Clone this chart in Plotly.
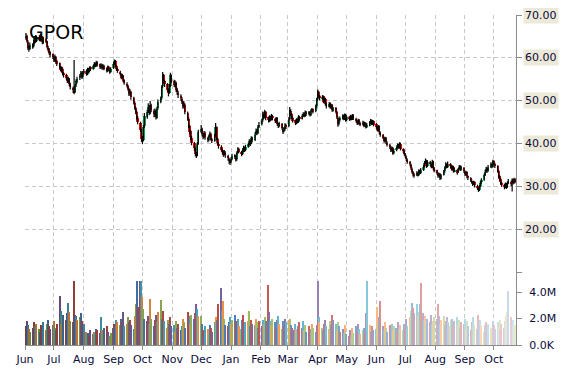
import pandas as pd
import plotly.graph_objects as go

# ---------------- data ----------------
title_text = "GPOR"
dates = pd.bdate_range("2014-06-02", "2015-10-23")

opens = [
    64.6, 65.0, 63.8, 62.5, 62.1, 63.2, 62.7, 63.6, 64.8, 64.0,
    64.9, 64.1, 65.1, 64.5, 63.5, 64.3, 63.9, 62.4, 62.0, 61.3,
    60.8, 60.0, 59.3, 60.1, 59.2, 58.7, 57.8, 57.0, 57.5, 56.3,
    56.1, 55.2, 54.4, 55.0, 53.9, 53.0, 52.3, 52.1, 53.6, 54.4,
    55.2, 55.9, 56.5, 55.5, 56.4, 57.0, 56.3, 57.4, 56.9, 57.7,
    57.5, 58.1, 58.7, 58.1, 59.0, 58.5, 57.7, 58.4, 57.5, 58.2,
    57.6, 56.9, 57.9, 57.2, 56.7, 57.6, 58.7, 59.3, 58.0, 57.5,
    56.8, 56.1, 55.3, 55.8, 54.8, 54.0, 53.4, 52.7, 51.5, 52.0,
    50.6, 49.5, 48.2, 47.4, 46.0, 44.8, 43.0, 40.9, 40.8, 44.0,
    46.3, 47.5, 48.7, 47.0, 49.0, 47.7, 46.6, 47.6, 46.0, 48.2,
    49.8, 50.6, 53.4, 55.9, 54.5, 53.8, 52.5, 51.9, 53.5, 55.8,
    54.6, 53.6, 54.1, 52.7, 51.9, 51.2, 50.5, 49.7, 48.6, 49.1,
    47.2, 45.8, 44.0, 42.9, 41.4, 40.1, 38.8, 37.5, 37.3, 40.0,
    42.8, 43.4, 42.1, 41.5, 42.5, 41.4, 40.8, 41.8, 42.2, 41.0,
    40.7, 41.9, 43.8, 41.1, 40.0, 39.3, 38.5, 38.0, 37.5, 37.9,
    37.1, 36.4, 35.8, 35.7, 36.4, 37.2, 36.9, 36.3, 37.9, 38.7,
    38.0, 37.6, 38.2, 39.1, 38.5, 39.3, 39.9, 40.6, 40.0, 41.3,
    40.9, 42.2, 43.1, 42.4, 43.9, 44.5, 45.4, 47.0, 46.1, 47.3,
    46.1, 45.3, 46.2, 45.6, 46.5, 45.8, 45.1, 45.9, 44.5, 44.0,
    44.6, 43.5, 42.9, 43.3, 44.3, 44.0, 45.7, 47.7, 46.8, 46.0,
    45.4, 44.7, 45.6, 45.0, 46.3, 45.8, 46.5, 47.0, 46.4, 47.4,
    46.9, 47.3, 46.6, 47.7, 48.0, 47.5, 48.7, 50.3, 52.0, 51.1,
    50.5, 51.0, 49.7, 50.5, 49.3, 48.6, 49.4, 48.4, 49.0, 47.7,
    48.3, 47.3, 46.0, 44.5, 45.4, 45.8, 46.5, 45.7, 46.7, 45.4,
    46.2, 45.6, 46.4, 45.7, 46.6, 45.8, 45.2, 44.6, 45.5, 44.8,
    44.4, 45.0, 44.1, 44.7, 43.8, 44.2, 44.9, 45.4, 44.6, 45.2,
    44.5, 43.7, 43.1, 44.0, 42.5, 42.0, 41.3, 40.5, 41.3, 40.2,
    39.7, 39.0, 38.3, 39.0, 37.7, 38.4, 39.0, 39.7, 39.1, 40.0,
    38.7, 38.1, 37.5, 36.9, 36.2, 35.7, 35.0, 34.1, 33.3, 32.8,
    32.6, 33.2, 32.6, 33.7, 33.1, 33.8, 34.7, 35.5, 36.0, 34.7,
    35.7, 35.1, 34.5, 35.8, 34.2, 33.7, 33.0, 32.3, 32.9, 31.8,
    32.7, 33.5, 34.4, 35.2, 34.5, 35.2, 34.6, 34.0, 34.6, 33.5,
    33.8, 33.3, 34.0, 34.7, 33.9, 34.3, 33.4, 32.7, 33.3, 32.2,
    31.9, 31.3, 30.9, 30.5, 31.0, 30.1, 29.5, 29.1, 30.0, 30.9,
    31.5, 32.7, 33.5, 34.2, 33.6, 34.5, 35.2, 34.6, 35.9, 35.2,
    34.7, 33.5, 32.3, 31.7, 30.8, 30.3, 29.9, 30.6, 29.8, 30.8,
    31.1, 30.7, 31.5, 30.9, 31.7,
]
highs = [
    65.8, 65.4, 64.1, 62.9, 63.6, 63.4, 64.2, 65.1, 65.3, 65.2,
    65.3, 65.6, 65.4, 64.8, 64.9, 64.6, 64.0, 62.8, 62.3, 61.6,
    61.0, 60.4, 60.8, 60.4, 59.5, 58.9, 58.1, 58.0, 57.8, 56.7,
    56.3, 55.5, 55.6, 55.3, 54.2, 53.3, 59.5, 53.9, 55.0, 55.6,
    56.2, 56.9, 56.8, 56.9, 57.4, 57.2, 57.7, 57.6, 58.0, 58.0,
    58.4, 59.0, 58.9, 59.3, 59.2, 58.7, 58.7, 58.6, 58.5, 58.4,
    57.8, 58.2, 58.1, 57.5, 57.8, 59.0, 59.6, 59.5, 58.3, 57.7,
    57.0, 56.4, 56.3, 56.0, 55.0, 54.3, 53.7, 53.0, 52.7, 52.3,
    50.9, 49.8, 48.6, 47.7, 46.4, 45.1, 43.4, 41.8, 44.3, 47.1,
    47.9, 49.4, 49.0, 49.9, 49.3, 48.0, 48.2, 47.9, 48.6, 50.3,
    51.0, 53.6, 56.7, 56.2, 54.9, 54.1, 52.9, 53.9, 56.5, 56.1,
    54.9, 54.7, 54.4, 53.0, 52.3, 51.5, 50.8, 50.0, 49.9, 49.4,
    47.5, 46.1, 44.4, 43.2, 41.8, 40.4, 39.1, 38.0, 40.3, 43.2,
    44.3, 43.7, 42.5, 42.9, 42.8, 41.6, 42.1, 42.8, 42.5, 41.3,
    42.2, 44.8, 44.0, 41.4, 40.3, 39.6, 38.8, 38.3, 38.5, 38.2,
    37.4, 36.7, 36.2, 36.8, 37.6, 37.5, 37.2, 38.2, 39.1, 39.0,
    38.3, 38.8, 39.5, 39.3, 39.7, 40.2, 41.0, 40.9, 41.7, 41.6,
    42.6, 43.5, 43.4, 44.3, 45.0, 45.8, 47.5, 47.3, 47.9, 47.6,
    46.3, 46.6, 46.5, 46.9, 46.7, 46.0, 46.2, 46.1, 44.8, 45.1,
    44.8, 43.8, 43.8, 44.7, 44.6, 46.1, 48.5, 48.0, 47.1, 46.3,
    45.6, 45.9, 45.8, 46.6, 46.5, 46.8, 47.3, 47.2, 47.7, 47.6,
    47.6, 47.5, 48.0, 48.3, 48.2, 49.1, 50.7, 52.6, 52.3, 51.4,
    51.3, 51.2, 50.8, 50.7, 49.5, 49.7, 49.6, 49.3, 49.2, 48.6,
    48.5, 47.6, 46.3, 45.7, 46.3, 46.8, 46.7, 47.0, 46.9, 46.5,
    46.4, 46.7, 46.6, 46.9, 46.8, 46.0, 45.4, 45.8, 45.7, 45.1,
    45.3, 45.2, 45.0, 44.9, 44.7, 45.2, 45.7, 45.6, 45.5, 45.4,
    44.7, 44.0, 44.3, 44.2, 42.8, 42.2, 41.6, 41.6, 41.5, 40.5,
    39.9, 39.3, 39.3, 39.2, 38.7, 39.3, 40.0, 39.9, 40.3, 40.2,
    38.9, 38.4, 37.8, 37.2, 36.5, 35.9, 35.3, 34.4, 33.6, 33.1,
    33.5, 33.4, 34.0, 33.9, 34.3, 35.0, 35.9, 36.5, 36.2, 36.1,
    35.9, 35.4, 36.2, 36.0, 34.5, 33.9, 33.3, 33.2, 33.1, 32.9,
    33.8, 34.7, 35.6, 35.4, 35.8, 35.4, 34.9, 34.9, 34.8, 34.3,
    34.0, 34.3, 35.0, 34.9, 34.8, 34.5, 33.7, 33.6, 33.5, 32.5,
    32.1, 31.6, 31.2, 31.3, 31.2, 30.4, 29.8, 30.3, 31.2, 31.9,
    33.0, 33.9, 34.6, 34.4, 35.0, 35.6, 35.4, 36.2, 36.1, 35.5,
    34.9, 33.8, 32.6, 32.0, 31.1, 30.6, 30.9, 30.8, 31.1, 31.7,
    31.3, 31.9, 31.7, 32.0, 31.9,
]
lows = [
    64.2, 63.6, 61.9, 61.4, 61.8, 62.1, 62.4, 63.3, 63.5, 63.7,
    63.9, 63.8, 64.0, 63.2, 63.3, 63.4, 62.2, 61.5, 60.8, 60.1,
    59.7, 59.0, 59.1, 58.6, 58.1, 57.5, 56.8, 56.7, 55.9, 55.4,
    54.9, 54.1, 54.2, 53.4, 52.6, 51.8, 51.5, 51.8, 53.2, 54.0,
    54.8, 55.5, 55.1, 55.2, 56.1, 55.8, 56.0, 56.4, 56.6, 57.0,
    57.2, 57.8, 57.8, 57.9, 58.0, 57.4, 57.5, 57.2, 57.3, 57.1,
    56.6, 56.7, 57.0, 56.3, 56.5, 57.4, 58.4, 57.8, 57.0, 56.5,
    55.8, 55.0, 55.1, 54.3, 53.7, 53.1, 52.3, 51.1, 51.2, 50.2,
    49.1, 47.9, 46.8, 45.6, 44.5, 42.7, 40.4, 39.9, 40.5, 43.7,
    45.8, 47.1, 46.6, 46.8, 47.3, 46.1, 46.2, 45.6, 45.8, 47.9,
    49.4, 50.3, 53.0, 54.0, 53.2, 52.1, 51.0, 51.6, 53.2, 54.2,
    53.2, 53.1, 52.0, 51.4, 50.6, 50.0, 49.2, 48.1, 48.3, 46.8,
    45.3, 43.6, 42.2, 40.9, 39.6, 38.3, 37.0, 36.6, 37.0, 39.7,
    42.5, 41.8, 41.0, 41.2, 40.9, 40.3, 40.5, 41.5, 40.7, 40.1,
    40.4, 41.6, 40.8, 39.6, 38.8, 38.2, 37.6, 36.9, 37.2, 36.7,
    36.0, 35.3, 35.0, 35.4, 36.1, 36.4, 35.8, 36.0, 37.6, 37.7,
    37.0, 37.3, 38.0, 38.0, 38.2, 39.0, 39.6, 39.4, 39.8, 40.3,
    40.6, 41.9, 42.0, 42.2, 43.6, 44.2, 45.1, 45.7, 45.9, 45.4,
    44.9, 45.0, 45.2, 45.4, 45.4, 44.8, 44.9, 44.2, 43.6, 43.8,
    43.2, 42.2, 42.6, 43.0, 43.4, 43.8, 45.4, 46.4, 45.7, 44.9,
    44.3, 44.5, 44.7, 44.8, 45.3, 45.6, 46.2, 46.1, 46.2, 46.4,
    46.6, 46.3, 46.4, 47.4, 47.0, 47.3, 48.4, 50.0, 50.8, 50.1,
    50.2, 49.4, 49.5, 48.8, 48.2, 48.4, 48.1, 48.2, 47.4, 47.5,
    47.0, 45.7, 43.9, 44.2, 45.1, 45.6, 45.4, 45.5, 45.1, 45.2,
    45.3, 45.4, 45.4, 45.5, 45.5, 44.9, 44.3, 44.4, 44.5, 44.0,
    44.2, 43.8, 43.9, 43.5, 43.6, 44.0, 44.6, 44.3, 44.4, 44.0,
    43.4, 42.8, 42.9, 42.2, 41.6, 41.0, 40.2, 40.3, 39.9, 39.3,
    38.7, 38.0, 38.1, 37.4, 37.5, 38.2, 38.8, 38.8, 38.9, 38.4,
    37.8, 37.2, 36.6, 35.9, 35.3, 34.7, 33.8, 33.0, 32.3, 32.0,
    32.4, 32.3, 32.4, 32.8, 32.9, 33.6, 34.4, 35.2, 34.3, 34.5,
    34.8, 34.2, 34.3, 33.9, 33.3, 32.7, 32.0, 32.1, 31.5, 31.6,
    32.5, 33.2, 34.1, 34.2, 34.3, 34.3, 33.7, 33.8, 33.2, 33.3,
    32.7, 33.1, 33.8, 33.6, 33.7, 33.1, 32.4, 32.5, 31.9, 31.5,
    31.0, 30.6, 30.1, 30.3, 29.7, 29.2, 28.7, 28.9, 29.8, 30.6,
    31.3, 32.4, 33.2, 33.2, 33.4, 34.3, 34.2, 34.4, 34.9, 34.3,
    33.2, 32.0, 31.3, 30.4, 29.9, 29.3, 29.6, 29.4, 29.6, 30.5,
    30.1, 28.8, 30.4, 30.6, 30.7,
]
closes = [
    65.2, 64.0, 62.3, 62.0, 63.1, 62.5, 63.8, 64.6, 63.9, 64.8,
    64.2, 65.0, 64.3, 63.6, 64.4, 63.8, 62.6, 61.9, 61.2, 60.6,
    60.1, 59.4, 60.3, 59.0, 58.6, 57.9, 57.2, 57.6, 56.4, 56.0,
    55.3, 54.6, 55.1, 53.8, 53.2, 52.4, 51.9, 53.5, 54.6, 55.0,
    55.8, 56.4, 55.6, 56.5, 56.9, 56.2, 57.3, 56.8, 57.6, 57.4,
    58.0, 58.6, 58.2, 58.9, 58.4, 57.8, 58.3, 57.6, 58.1, 57.5,
    57.0, 57.8, 57.3, 56.8, 57.4, 58.6, 59.2, 58.1, 57.4, 56.9,
    56.2, 55.4, 55.9, 54.7, 54.1, 53.5, 52.8, 51.6, 52.2, 50.8,
    49.6, 48.4, 47.3, 46.2, 45.1, 43.2, 41.0, 40.6, 43.8, 46.5,
    47.4, 48.6, 47.2, 48.9, 47.8, 46.8, 47.5, 46.2, 48.1, 49.6,
    50.4, 53.2, 55.8, 54.6, 53.9, 52.6, 51.8, 53.4, 55.9, 54.8,
    53.7, 54.2, 52.6, 52.0, 51.3, 50.6, 49.8, 48.7, 49.3, 47.4,
    45.9, 44.1, 42.8, 41.5, 40.2, 38.9, 37.6, 37.1, 39.8, 42.6,
    43.5, 42.2, 41.6, 42.4, 41.5, 40.9, 41.7, 42.3, 41.1, 40.6,
    41.8, 43.9, 41.2, 40.1, 39.4, 38.6, 38.1, 37.4, 38.0, 37.2,
    36.5, 35.9, 35.6, 36.3, 37.1, 37.0, 36.2, 37.8, 38.6, 38.1,
    37.5, 38.3, 39.0, 38.4, 39.2, 39.8, 40.5, 39.9, 41.2, 40.8,
    42.1, 43.0, 42.5, 43.8, 44.4, 45.3, 46.9, 46.2, 47.4, 46.0,
    45.4, 46.1, 45.7, 46.4, 45.9, 45.2, 45.8, 44.6, 44.1, 44.7,
    43.6, 42.8, 43.4, 44.2, 43.9, 45.6, 47.8, 46.9, 46.1, 45.3,
    44.8, 45.5, 45.1, 46.2, 45.7, 46.4, 46.9, 46.5, 47.3, 46.8,
    47.2, 46.7, 47.6, 47.9, 47.4, 48.6, 50.2, 51.9, 51.2, 50.6,
    50.9, 49.8, 50.4, 49.2, 48.7, 49.3, 48.5, 48.9, 47.8, 48.2,
    47.4, 46.1, 44.6, 45.3, 45.9, 46.4, 45.8, 46.6, 45.5, 46.1,
    45.7, 46.3, 45.8, 46.5, 45.9, 45.3, 44.7, 45.4, 44.9, 44.5,
    44.9, 44.2, 44.6, 43.9, 44.3, 44.8, 45.3, 44.7, 45.1, 44.4,
    43.8, 43.2, 43.9, 42.6, 42.1, 41.4, 40.6, 41.2, 40.3, 39.8,
    39.1, 38.4, 38.9, 37.8, 38.3, 38.9, 39.6, 39.2, 39.9, 38.8,
    38.2, 37.6, 37.0, 36.3, 35.8, 35.1, 34.2, 33.4, 32.9, 32.5,
    33.1, 32.7, 33.6, 33.2, 33.9, 34.6, 35.4, 35.9, 34.8, 35.6,
    35.2, 34.6, 35.7, 34.3, 33.8, 33.1, 32.4, 32.8, 31.9, 32.6,
    33.4, 34.3, 35.1, 34.6, 35.3, 34.7, 34.1, 34.5, 33.6, 33.9,
    33.2, 33.9, 34.6, 34.0, 34.4, 33.5, 32.8, 33.2, 32.3, 32.0,
    31.4, 31.0, 30.6, 30.9, 30.2, 29.6, 29.2, 29.9, 30.8, 31.4,
    32.6, 33.4, 34.1, 33.7, 34.6, 35.1, 34.7, 35.8, 35.3, 34.8,
    33.6, 32.4, 31.8, 30.9, 30.4, 29.8, 30.5, 29.9, 30.7, 31.2,
    30.6, 31.4, 30.8, 31.6, 31.1,
]
# volume in millions of shares
volumes_m = [
    1.4, 1.8, 1.5, 1.2, 1.0, 1.3, 1.7, 1.1, 1.4, 1.6,
    1.2, 1.0, 1.5, 1.3, 1.7, 1.1, 1.6, 1.9, 1.4, 1.2,
    1.5, 1.8, 1.3, 1.1, 1.6, 3.7, 2.6, 1.6, 2.1, 2.3,
    1.9, 2.4, 3.2, 2.5, 1.8, 1.7, 4.8, 2.3, 2.2, 1.9,
    2.1, 2.4, 1.8, 1.5, 1.6, 1.0, 0.8, 0.9, 0.7, 1.1,
    0.8, 1.0, 0.9, 1.2, 1.1, 0.9, 2.1, 1.1, 0.8, 1.3,
    1.4, 1.0, 0.7, 0.6, 0.9, 1.3, 1.6, 1.2, 1.9, 1.7,
    1.5, 2.0, 1.8, 2.5, 1.4, 1.6, 2.1, 1.7, 1.9, 1.5,
    1.2, 2.2, 3.1, 4.8, 2.9, 4.8, 4.8, 3.6, 2.7, 2.0,
    1.8, 2.2, 1.6, 3.5, 2.0, 1.4, 1.9, 2.3, 1.7, 2.5,
    3.4, 2.0, 2.6, 1.5, 1.8, 1.3, 1.9, 1.6, 2.1, 1.4,
    1.5, 1.0, 1.8, 1.3, 1.6, 1.1, 1.4, 2.0, 1.7, 1.3,
    2.5, 1.9, 2.2, 1.6, 2.3, 2.0, 2.4, 3.1, 2.7, 2.2,
    2.2, 1.6, 1.1, 0.9, 1.4, 1.2, 0.8, 1.5, 1.3, 1.0,
    1.7, 2.1, 1.4, 1.9, 3.1, 4.3, 2.6, 3.3, 2.0, 1.5,
    1.4, 1.7, 2.1, 1.6, 1.9, 2.3, 1.8, 1.6, 2.0, 1.4,
    1.2, 1.9, 2.3, 1.5, 1.7, 1.8, 2.6, 1.4, 1.9, 1.6,
    1.5, 2.0, 1.7, 1.3, 1.8, 1.4, 1.9, 1.6, 2.1, 1.8,
    4.5, 2.5, 1.8, 1.5, 2.0, 1.7, 1.3, 1.9, 2.2, 1.6,
    1.2, 1.8, 1.5, 2.0, 1.7, 1.9, 2.0, 1.5, 1.3, 1.1,
    1.6, 1.2, 0.9, 1.4, 1.7, 1.3, 1.8, 1.1, 1.5, 1.0,
    1.4, 0.9, 1.2, 1.6, 1.3, 1.0, 1.5, 4.8, 2.1, 1.7,
    1.3, 1.1, 1.6, 1.9, 1.4, 1.2, 1.8, 1.5, 2.3, 1.9,
    1.6, 1.1, 1.7, 1.4, 1.0, 1.2, 0.9, 1.5, 1.0, 0.8,
    0.7, 1.1, 0.6, 1.3, 0.9, 1.4, 1.0, 1.6, 1.2, 0.8,
    1.1, 1.3, 0.9, 2.4, 4.8, 1.5, 1.2, 1.0, 1.4, 1.1,
    1.2, 2.9, 1.6, 2.1, 3.3, 1.4, 1.1, 1.7, 1.3, 1.0,
    1.5, 1.2, 1.6, 1.1, 1.4, 1.3, 1.0, 1.7, 1.2, 1.5,
    1.1, 1.6, 1.3, 2.0, 1.4, 2.1, 2.6, 3.2, 2.8, 2.4,
    3.1, 2.2, 2.5, 3.1, 4.7, 2.4, 1.9, 2.2, 1.6, 2.0,
    1.7, 2.3, 1.5, 1.8, 2.1, 2.0, 3.1, 2.2, 1.6, 1.9,
    2.2, 1.5, 1.8, 2.1, 1.7, 1.4, 1.9, 2.0, 1.6, 1.8,
    2.1, 1.5, 1.9, 1.3, 1.7, 1.6, 2.0, 1.2, 1.8, 1.4,
    1.1, 1.7, 2.1, 1.3, 1.5, 1.2, 2.3, 1.6, 1.9, 1.4,
    1.0, 1.5, 1.7, 1.2, 1.6, 1.3, 1.1, 1.8, 1.5, 1.2,
    1.7, 1.4, 1.9, 1.1, 1.6, 1.3, 1.8, 2.2, 2.5, 4.1,
    2.1, 1.7, 1.9, 1.4, 1.5,
]
price_ticks = [10, 20, 30, 40, 50, 60, 70]
price_labels = ["", "20.00", "30.00", "40.00", "50.00", "60.00", "70.00"]
vol_ticks = [0, 2, 4]
vol_labels = ["0.0K", "2.0M", "4.0M"]

n = len(dates)
assert all(len(a) == n for a in (opens, highs, lows, closes, volumes_m))

# ---------------- styling ----------------
FONT = "DejaVu Sans"
TXT = "#0b0b3b"
GRID = "#c8c8c8"
AXIS = "#8c8c8c"
UP = "#10a050"
DOWN = "#ff0000"
DAY_MS = 86400000

# volume bar colours: cycling palette, dark at the start, pale at the end
palette = [(192, 80, 77), (128, 100, 162), (75, 172, 198),
           (247, 150, 70), (155, 187, 89), (79, 129, 189)]
vol_colors = []
for i in range(n):
    r, g, b = palette[i % len(palette)]
    f = i / (n - 1)
    if f < 0.45:
        k = (0.45 - f) / 0.45 * 0.3
        r, g, b = r * (1 - k), g * (1 - k), b * (1 - k)
    else:
        k = (f - 0.45) / 0.55 * 0.72
        r, g, b = r + (255 - r) * k, g + (255 - g) * k, b + (255 - b) * k
    vol_colors.append(f"rgb({int(r)},{int(g)},{int(b)})")

body_base = [min(o, c) for o, c in zip(opens, closes)]
body_h = [max(abs(c - o), 0.08) for o, c in zip(opens, closes)]
body_col = [UP if c >= o else DOWN for o, c in zip(opens, closes)]

wx, wy = [], []
for d, h, l in zip(dates, highs, lows):
    wx += [d, d, None]
    wy += [l, h, None]

fig = go.Figure()
fig.add_trace(go.Bar(x=dates, y=volumes_m, marker=dict(color=vol_colors, line=dict(width=0)),
                     width=1.3 * DAY_MS, yaxis="y2", xaxis="x", hoverinfo="skip"))
fig.add_trace(go.Bar(x=dates, y=body_h, base=body_base,
                     marker=dict(color=body_col, line=dict(width=0)),
                     width=2.4 * DAY_MS, yaxis="y", xaxis="x", hoverinfo="skip"))
fig.add_trace(go.Scatter(x=wx, y=wy, mode="lines", line=dict(color="black", width=1.2),
                         yaxis="y", xaxis="x", hoverinfo="skip"))

split = (345 - 272) / 330

fig.update_layout(
    width=570, height=370,
    margin=dict(l=12, r=62, t=7, b=33),
    paper_bgcolor="white", plot_bgcolor="white",
    showlegend=False, barmode="overlay", bargap=0,
    font=dict(family=FONT, size=11, color=TXT),
    xaxis=dict(
        type="date", range=["2014-06-01", "2015-10-24"], anchor="y2",
        dtick="M1", tick0="2014-06-01", tickformat="%b",
        ticks="outside", ticklen=4, tickcolor=AXIS,
        showline=True, linecolor=AXIS, linewidth=1,
        showgrid=True, gridcolor=GRID, griddash="4px,3px", gridwidth=1,
        zeroline=False, tickfont=dict(family=FONT, size=11, color=TXT),
    ),
    yaxis=dict(
        domain=[split, 1], range=[10, 70], side="right", anchor="x",
        tickvals=price_ticks, showticklabels=False,
        ticks="outside", ticklen=5, tickcolor=AXIS,
        showline=True, linecolor=AXIS, linewidth=1,
        showgrid=True, gridcolor=GRID, griddash="4px,3px", gridwidth=1,
        zeroline=False,
    ),
    yaxis2=dict(
        domain=[0, split], range=[0, 5.51], side="right", anchor="x",
        tickvals=vol_ticks, ticktext=vol_labels,
        ticks="outside", ticklen=5, tickcolor=AXIS, ticklabelstandoff=5,
        showline=True, linecolor=AXIS, linewidth=1,
        showgrid=False, zeroline=False,
        tickfont=dict(family=FONT, size=11, color=TXT),
    ),
)

for v, t in zip(price_ticks, price_labels):
    if t:
        fig.add_annotation(x=1, xref="paper", xanchor="left", xshift=7,
                           y=v, yref="y", yanchor="middle", text=t, showarrow=False,
                           bgcolor="#ece9d8", borderpad=1,
                           font=dict(family=FONT, size=11, color=TXT))

fig.add_annotation(x=0, xref="paper", xanchor="left", xshift=2,
                   y=(345 - 32.5) / 330, yref="paper", yanchor="middle",
                   text=title_text, showarrow=False,
                   font=dict(family=FONT, size=19, color="black"))

fig.write_html("out.html")
